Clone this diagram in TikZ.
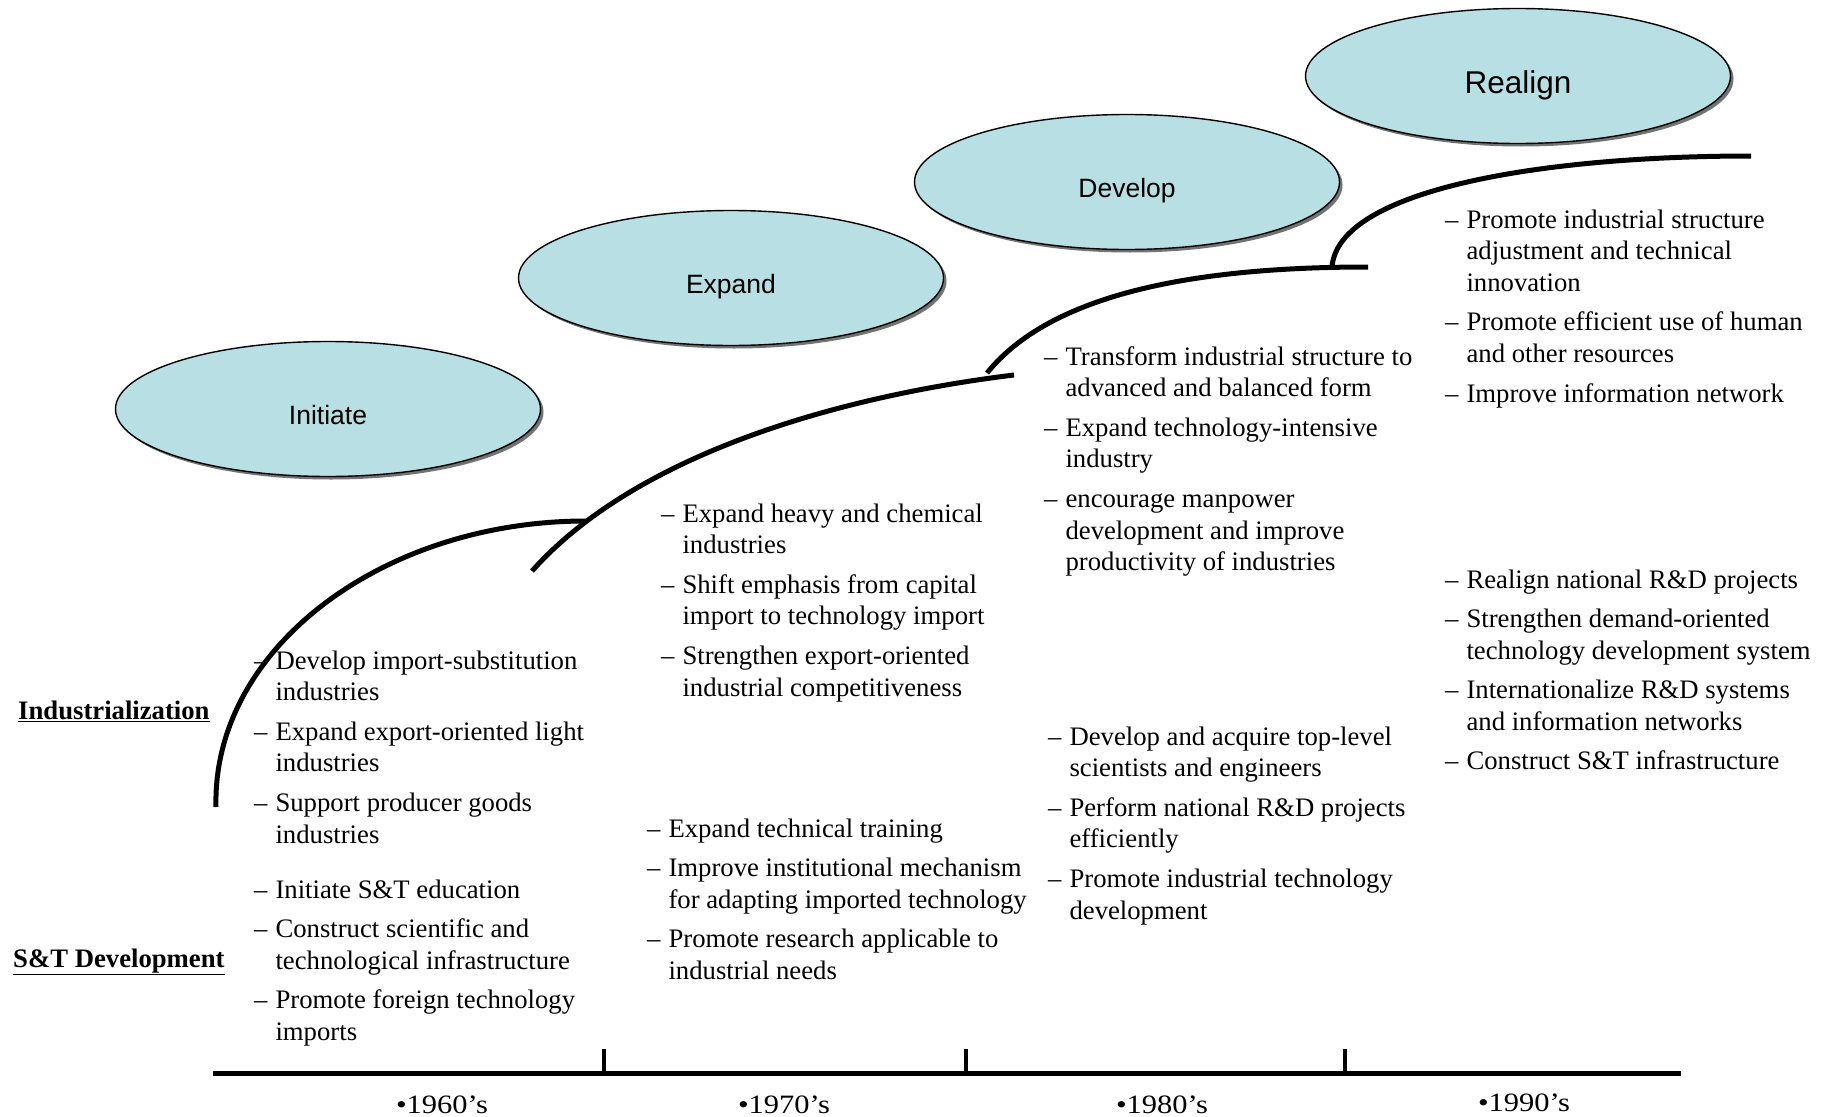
\documentclass[tikz,border=0pt]{standalone}
\usepackage{fontspec}
\setmainfont{Liberation Serif}
\newfontfamily\phasefont{Liberation Sans}
\usetikzlibrary{shapes.geometric,shadows}

\definecolor{phasecol}{RGB}{184,223,227}
\newcommand{\dashlist}[1]{\begin{tabular}[t]{@{}l@{\hspace{8pt}}l@{}}#1\end{tabular}}
\newcommand{\yearwide}[1]{\scalebox{1.15}[1]{#1}}

\tikzset{
  phase/.style={ellipse,draw=black,line width=1.4pt,fill=phasecol,
    minimum width=425pt,minimum height=135pt,inner sep=0pt,
    text height=31pt,text depth=0pt,
    font=\phasefont\fontsize{26.5}{30}\selectfont,
    drop shadow={shadow xshift=3pt,shadow yshift=-3pt,fill=black!55,opacity=1}},
  itemblk/.style={anchor=base west,inner sep=0pt,font=\fontsize{26.7}{31.8}\selectfont},
  sidelbl/.style={anchor=base west,inner sep=0pt,font=\fontsize{26.7}{31.5}\selectfont\bfseries},
  yearlbl/.style={anchor=base,inner sep=0pt,font=\fontsize{26.5}{30}\selectfont},
  stage/.style={line width=5pt}
}

\begin{document}
\begin{tikzpicture}[x=1pt,y=-1pt]
\useasboundingbox (0,0) rectangle (1827,1116);

\node[phase] (initiate) at (328,409) {Initiate};
\node[phase] (expand) at (731,278) {Expand};
\node[phase] (develop) at (1127,182) {Develop};
\node[phase,font=\phasefont\fontsize{31.5}{36}\selectfont,text height=34pt] (realign) at (1518,76) {Realign};

\draw[stage] (216,807) .. controls (212,649) and (382,521) .. (586,521);
\draw[stage] (532,571) .. controls (640,450) and (850,395) .. (1014,375);
\draw[stage] (987,373) .. controls (1050,295) and (1190,267) .. (1368,267);
\draw[stage] (1332,267) .. controls (1338,190) and (1540,156) .. (1751,156);

\node[sidelbl] (indlbl) at (18,719) {\underline{Industrialization}};
\node[sidelbl] (stlbl) at (13,967) {\underline{S\&T Development}};

\node[itemblk] (ind60) at (254,669) {\dashlist{
  -- & Develop import-substitution\\ & industries\\[7.5pt]
  -- & Expand export-oriented light\\ & industries\\[7.5pt]
  -- & Support producer goods\\ & industries}};
\node[itemblk] (st60) at (254,898) {\dashlist{
  -- & Initiate S\&T education\\[7.5pt]
  -- & Construct scientific and\\ & technological infrastructure\\[7.5pt]
  -- & Promote foreign technology\\ & imports}};

\node[itemblk] (ind70) at (661,522) {\dashlist{
  -- & Expand heavy and chemical\\ & industries\\[7.5pt]
  -- & Shift emphasis from capital\\ & import to technology import\\[7.5pt]
  -- & Strengthen export-oriented\\ & industrial competitiveness}};
\node[itemblk] (st70) at (647,837) {\dashlist{
  -- & Expand technical training\\[7.5pt]
  -- & Improve institutional mechanism\\ & for adapting imported technology\\[7.5pt]
  -- & Promote research applicable to\\ & industrial needs}};

\node[itemblk] (ind80) at (1044,365) {\dashlist{
  -- & Transform industrial structure to\\ & advanced and balanced form\\[7.5pt]
  -- & Expand technology-intensive\\ & industry\\[7.5pt]
  -- & encourage manpower\\ & development and improve\\ & productivity of industries}};
\node[itemblk] (st80) at (1048,745) {\dashlist{
  -- & Develop and acquire top-level\\ & scientists and engineers\\[7.5pt]
  -- & Perform national R\&D projects\\ & efficiently\\[7.5pt]
  -- & Promote industrial technology\\ & development}};

\node[itemblk] (ind90) at (1445,228) {\dashlist{
  -- & Promote industrial structure\\ & adjustment and technical\\ & innovation\\[7.5pt]
  -- & Promote efficient use of human\\ & and other resources\\[7.5pt]
  -- & Improve information network}};
\node[itemblk] (st90) at (1445,588) {\dashlist{
  -- & Realign national R\&D projects\\[7.5pt]
  -- & Strengthen demand-oriented\\ & technology development system\\[7.5pt]
  -- & Internationalize R\&D systems\\ & and information networks\\[7.5pt]
  -- & Construct S\&T infrastructure}};

\draw[line width=5pt] (213,1073) -- (1681,1073);
\draw[line width=4pt] (604,1049) -- (604,1073);
\draw[line width=4pt] (966,1049) -- (966,1073);
\draw[line width=4pt] (1345,1049) -- (1345,1073);

\node[yearlbl] (y60) at (442,1113) {\yearwide{•1960's}};
\node[yearlbl] (y70) at (784,1113) {\yearwide{•1970's}};
\node[yearlbl] (y80) at (1162,1113) {\yearwide{•1980's}};
\node[yearlbl] (y90) at (1524,1111) {\yearwide{•1990's}};

\end{tikzpicture}
\end{document}
